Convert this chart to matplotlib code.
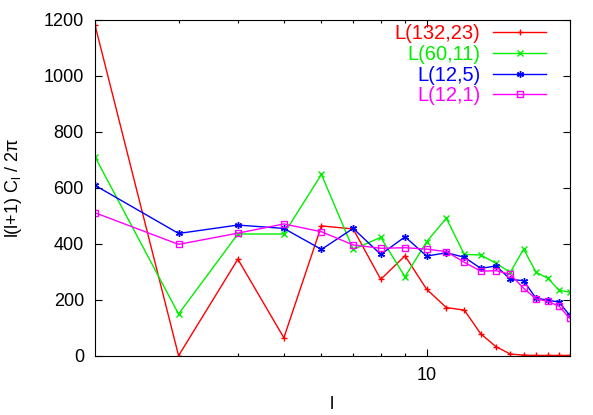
import matplotlib
matplotlib.use("Agg")
import matplotlib.pyplot as plt
from matplotlib.ticker import FixedLocator, NullFormatter, FixedFormatter

plt.rcParams['font.family'] = ['Liberation Sans', 'DejaVu Sans']
plt.rcParams['mathtext.fontset'] = 'custom'
plt.rcParams['mathtext.rm'] = 'Liberation Sans'

ell = list(range(2, 21))
red_vals = [1182, 0, 345, 64, 464, 453, 273, 357, 237, 172, 163, 78, 32, 6, 2, 1, 1, 1, 1]
green_vals = [711, 149, 435, 435, 648, 380, 423, 282, 408, 491, 362, 360, 330, 298, 381, 298, 277, 234, 227]
blue_vals = [609, 437, 467, 455, 380, 455, 362, 425, 356, 368, 352, 312, 321, 273, 268, 205, 199, 191, 145]
pink_vals = [511, 398, 438, 471, 443, 396, 384, 386, 381, 372, 334, 302, 304, 291, 241, 203, 194, 177, 134]
labels = ["L(132,23)", "L(60,11)", "L(12,5)", "L(12,1)"]
colors = ["#ff0000", "#00ee00", "#0000ff", "#ff00ff"]

fig = plt.figure(figsize=(5.93, 4.15), dpi=100)
ax = fig.add_axes([95/593, 1-355.7/415, (569.6-95)/593, (355.7-20)/415])

series = [red_vals, green_vals, blue_vals, pink_vals]
markers = ['+', 'x', (6, 2, 0), 's']
for vals, lab, c, m in zip(series, labels, colors, markers):
    kw = dict(color=c, lw=1.0, marker=m, markersize=5, markeredgewidth=1.0, label=lab)
    if m == 's':
        kw.update(markerfacecolor='none', markersize=4.5)
    ax.plot(ell, vals, **kw)

ax.set_xscale('log')
ax.set_xlim(2, 20)
ax.set_ylim(0, 1200)
ax.set_yticks(range(0, 1201, 200))
ax.xaxis.set_major_locator(FixedLocator([10]))
ax.xaxis.set_major_formatter(FixedFormatter(['10']))
ax.xaxis.set_minor_locator(FixedLocator([3, 4, 5, 6, 7, 8, 9, 20]))
ax.xaxis.set_minor_formatter(NullFormatter())
ax.tick_params(which='both', direction='in', top=True, right=True, labelsize=13, width=0.8, pad=8)
ax.tick_params(which='major', length=5)
ax.tick_params(which='minor', length=2.5)
for s in ax.spines.values():
    s.set_linewidth(0.8)

ax.set_xlabel('l', fontsize=13, labelpad=9)
ax.set_ylabel('l(l+1) C$_\\mathrm{l}$ / 2π', fontsize=13, labelpad=14)

leg = ax.legend(loc='upper right', bbox_to_anchor=((546-95)/474.6, 0.988), frameon=False, fontsize=14.5,
                markerfirst=False, handlelength=2.63, handletextpad=0.63, labelspacing=0.09,
                borderaxespad=0.0, borderpad=0.0)
for t, c in zip(leg.get_texts(), colors):
    t.set_color(c)
    t.set_ha('right')
leg._legend_box.align = 'right'

fig.savefig('out.png', dpi=100)
